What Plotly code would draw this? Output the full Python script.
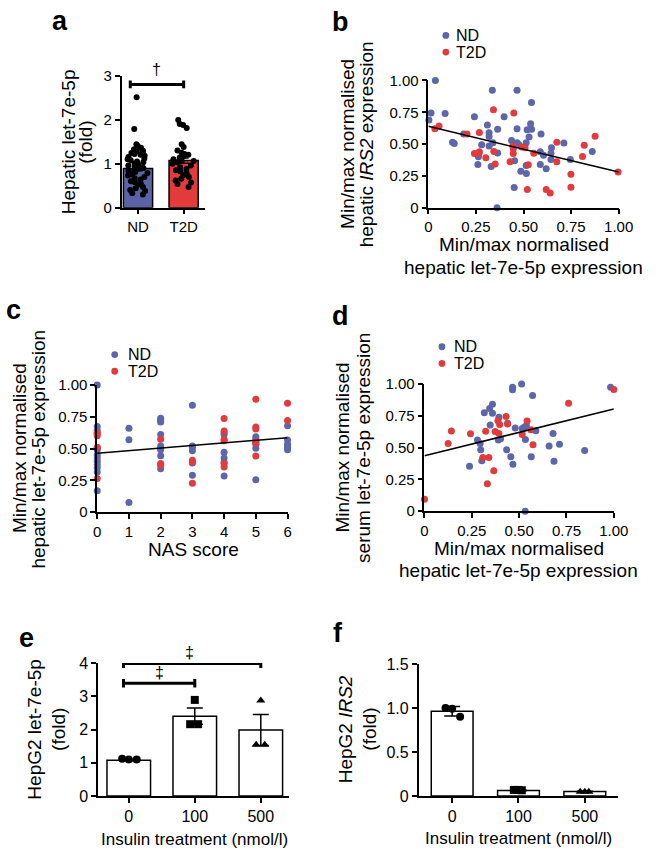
import plotly.graph_objects as go

W, H = 657, 856
ND_COLOR = "#5C66A9"
T2D_COLOR = "#E23B3E"
ND_BAR = "#5B63A6"
T2D_BAR = "#E33A3C"
FONT = "Liberation Sans, Arial, sans-serif"

# ---------------- data ----------------
# Panel a: hepatic let-7e-5p (fold)
a_groups = ["ND", "T2D"]
a_means = [0.89, 1.07]
a_sem = [0.05, 0.06]
a_nd = [2.51, 1.79, 1.44, 1.40, 1.36, 1.33, 1.30, 1.29, 1.27, 1.24, 1.22, 1.20,
        1.18, 1.15, 1.12, 1.10, 1.08, 1.05, 1.03, 1.00, 0.98, 0.96, 0.94, 0.92,
        0.90, 0.88, 0.86, 0.84, 0.81, 0.79, 0.76, 0.73, 0.70, 0.67, 0.64, 0.60,
        0.58, 0.55, 0.52, 0.47, 0.44, 0.40, 0.38, 0.33, 0.30]
a_t2d = [1.99, 1.90, 1.88, 1.81, 1.44, 1.38, 1.30, 1.25, 1.22, 1.20, 1.17, 1.14,
         1.10, 1.08, 1.06, 1.03, 1.00, 0.96, 0.92, 0.88, 0.85, 0.83, 0.78, 0.74,
         0.70, 0.66, 0.62, 0.57, 0.54, 0.47]

# Panel b: hepatic let-7e-5p (x) vs hepatic IRS2 (y)
b_nd_x = [0.037, 0.014, 0.003, 0.088, 0.127, 0.136, 0.186, 0.242, 0.263, 0.26, 0.28,
          0.31, 0.319, 0.319, 0.319, 0.33, 0.336, 0.339, 0.364, 0.364, 0.361, 0.398,
          0.437, 0.451, 0.453, 0.466, 0.466, 0.466, 0.475, 0.486, 0.514, 0.515, 0.514,
          0.519, 0.529, 0.537, 0.542, 0.542, 0.592, 0.588, 0.588, 0.605, 0.619, 0.644,
          0.644, 0.647, 0.712, 0.746, 0.861]
b_nd_y = [1.0, 0.745, 0.69, 0.74, 0.515, 0.505, 0.58, 0.714, 0.40, 0.34, 0.495,
          0.65, 0.59, 0.56, 0.485, 0.324, 0.923, 0.51, 0.617, 0.43, 0.0, 0.714,
          0.528, 0.158, 0.37, 0.923, 0.62, 0.51, 0.497, 0.286, 0.332, 0.268, 0.51,
          0.612, 0.556, 0.66, 0.827, 0.617, 0.579, 0.439, 0.339, 0.413, 0.306, 0.429,
          0.378, 0.472, 0.508, 0.378, 0.441]
b_t2d_x = [0.034, 0.056, 0.203, 0.268, 0.242, 0.266, 0.268, 0.302, 0.342, 0.344, 0.351,
           0.429, 0.446, 0.446, 0.449, 0.444, 0.49, 0.508, 0.525, 0.52, 0.554, 0.619,
           0.64, 0.675, 0.675, 0.749, 0.749, 0.81, 0.819, 0.876, 0.997]
b_t2d_y = [0.62, 0.643, 0.579, 0.592, 0.426, 0.429, 0.439, 0.393, 0.77, 0.441, 0.344,
           0.362, 0.426, 0.464, 0.745, 0.485, 0.477, 0.472, 0.337, 0.143, 0.429, 0.143,
           0.115, 0.515, 0.362, 0.263, 0.161, 0.403, 0.49, 0.561, 0.281]
b_fit_x = [0.0, 1.0]
b_fit_y = [0.64, 0.28]

# Panel c: NAS score (x) vs hepatic let-7e-5p (y)
c_nd_x = [0] * 13 + [1] * 3 + [2] * 9 + [3] * 6 + [4] * 6 + [5] * 5 + [6] * 5
c_nd_y = [1.0, 0.674, 0.644, 0.62, 0.503, 0.49, 0.451, 0.426, 0.40, 0.374, 0.349, 0.315, 0.169,
          0.66, 0.57, 0.077,
          0.738, 0.72, 0.708, 0.61, 0.52, 0.50, 0.49, 0.444, 0.341,
          0.841, 0.52, 0.51, 0.482, 0.387, 0.29,
          0.626, 0.61, 0.472, 0.426, 0.395, 0.285,
          0.592, 0.574, 0.533, 0.503, 0.254,
          0.679, 0.567, 0.533, 0.51, 0.49]
c_t2d_x = [0] * 4 + [2] * 3 + [3] * 3 + [4] * 6 + [5] * 6 + [6] * 2
c_t2d_y = [0.62, 0.60, 0.51, 0.265,
           0.574, 0.382, 0.369,
           0.408, 0.395, 0.228,
           0.736, 0.638, 0.572, 0.562, 0.382, 0.356,
           0.887, 0.669, 0.654, 0.554, 0.541, 0.441,
           0.856, 0.72]
c_fit_x = [0, 6]
c_fit_y = [0.464, 0.585]

# Panel d: hepatic let-7e-5p (x) vs serum let-7e-5p (y)
d_nd_x = [0.238, 0.28, 0.294, 0.297, 0.303, 0.316, 0.344, 0.347, 0.359, 0.359, 0.393,
          0.39, 0.402, 0.434, 0.439, 0.456, 0.465, 0.465, 0.467, 0.479, 0.513, 0.516,
          0.528, 0.533, 0.532, 0.538, 0.564, 0.571, 0.588, 0.658, 0.679, 0.684, 0.713,
          0.846, 0.983]
d_nd_y = [0.354, 0.559, 0.533, 0.482, 0.397, 0.774, 0.808, 0.677, 0.841, 0.769, 0.738,
          0.559, 0.569, 0.482, 0.692, 0.428, 0.974, 0.954, 0.369, 0.654, 1.0, 0.649,
          0.662, 0.564, 0.0, 0.672, 0.428, 0.91, 0.633, 0.513, 0.61, 0.392, 0.526,
          0.477, 0.974]
d_t2d_x = [0.0, 0.125, 0.142, 0.243, 0.308, 0.323, 0.34, 0.332, 0.366, 0.373, 0.388,
           0.397, 0.393, 0.431, 0.439, 0.516, 0.542, 0.562, 0.573, 0.761, 1.0]
d_t2d_y = [0.095, 0.533, 0.631, 0.608, 0.423, 0.628, 0.423, 0.215, 0.318, 0.626, 0.71,
           0.682, 0.61, 0.744, 0.685, 0.603, 0.708, 0.641, 0.523, 0.849, 0.956]
d_fit_x = [0.0, 1.0]
d_fit_y = [0.436, 0.803]

# Panels e, f: insulin treatment in HepG2
doses = ["0", "100", "500"]
e_means = [1.08, 2.40, 1.985]
e_sem = [0.02, 0.245, 0.465]
e_points = [[1.12, 1.10, 1.10], [2.89, 2.16, 2.16], [2.87, 1.54, 1.54]]
f_means = [0.963, 0.063, 0.052]
f_sem = [0.055, 0.006, 0.004]
f_points = [[1.0, 0.99, 0.90], [0.07, 0.07, 0.066], [0.05, 0.05, 0.048]]
dose_symbols = ["circle", "square", "triangle-up"]
point_offsets = [[-0.1, 0.0, 0.12], [0.0, -0.07, 0.05], [0.0, -0.07, 0.06]]

# significance brackets: (x_from, x_to, y) in data units, label and its pixel position
a_brackets = [(-0.17, 1.0, 2.8, "†", 157, 62)]
e_brackets = [(-0.08, 1.0, 3.39, "‡", 160, 678), (-0.08, 2.0, 3.98, "‡", 191, 657)]

# ---------------- figure ----------------
fig = go.Figure()

fig.add_trace(go.Bar(x=a_groups, y=a_means, width=0.64,
                     marker=dict(color=[ND_BAR, T2D_BAR], line=dict(color="black", width=1.5)),
                     error_y=dict(type="data", array=a_sem, color="black", thickness=1.5, width=5),
                     xaxis="x", yaxis="y", showlegend=False))
for grp, vals in zip(a_groups, [a_nd, a_t2d]):
    fig.add_trace(go.Box(x=[grp] * len(vals), y=vals, boxpoints="all", jitter=0.9, pointpos=0,
                         width=0.58, fillcolor="rgba(0,0,0,0)",
                         line=dict(color="rgba(0,0,0,0)", width=0),
                         marker=dict(color="black", size=6), xaxis="x", yaxis="y",
                         showlegend=False, name=grp))


def scatter_panel(xa, ya, ndx, ndy, tx, ty, fx, fy):
    fig.add_trace(go.Scatter(x=ndx, y=ndy, mode="markers", name="ND", cliponaxis=False,
                             marker=dict(color=ND_COLOR, size=7), xaxis=xa, yaxis=ya, showlegend=False))
    fig.add_trace(go.Scatter(x=tx, y=ty, mode="markers", name="T2D", cliponaxis=False,
                             marker=dict(color=T2D_COLOR, size=7), xaxis=xa, yaxis=ya, showlegend=False))
    fig.add_trace(go.Scatter(x=fx, y=fy, mode="lines", line=dict(color="black", width=1.5),
                             cliponaxis=False, xaxis=xa, yaxis=ya, showlegend=False))


scatter_panel("x2", "y2", b_nd_x, b_nd_y, b_t2d_x, b_t2d_y, b_fit_x, b_fit_y)
scatter_panel("x3", "y3", c_nd_x, c_nd_y, c_t2d_x, c_t2d_y, c_fit_x, c_fit_y)
scatter_panel("x4", "y4", d_nd_x, d_nd_y, d_t2d_x, d_t2d_y, d_fit_x, d_fit_y)


def dose_panel(xa, ya, means, sem, points, bw):
    fig.add_trace(go.Bar(x=list(range(len(doses))), y=means, width=bw,
                         marker=dict(color="white", line=dict(color="black", width=1.5)),
                         error_y=dict(type="data", array=sem, color="black", thickness=1.5, width=8),
                         xaxis=xa, yaxis=ya, showlegend=False))
    for i, vals in enumerate(points):
        fig.add_trace(go.Scatter(x=[i + o for o in point_offsets[i]], y=vals, mode="markers",
                                 cliponaxis=False,
                                 marker=dict(color="black", size=8, symbol=dose_symbols[i]),
                                 xaxis=xa, yaxis=ya, showlegend=False, name=doses[i]))


dose_panel("x5", "y5", e_means, e_sem, e_points, 0.66)
dose_panel("x6", "y6", f_means, f_sem, f_points, 0.63)


def xd(l, r):
    return [l / W, r / W]


def yd(top, bottom):
    return [1 - bottom / H, 1 - top / H]


base = dict(showline=True, linecolor="black", linewidth=1.5, ticks="outside", ticklen=5,
            tickwidth=1.5, tickcolor="black", showgrid=False, zeroline=False,
            tickfont=dict(size=15, color="black", family=FONT))
frac_vals = [0, 0.25, 0.5, 0.75, 1.0]
frac_text = ["0", "0.25", "0.50", "0.75", "1.00"]
big_tick = dict(size=16, color="black", family=FONT)

layout_axes = dict(
    xaxis=dict(base, domain=xd(121, 207), anchor="y", type="category",
               range=[-0.362, 1.468]),
    yaxis=dict(base, domain=yd(68, 203), anchor="x", range=[0, 3], tickvals=[0, 1, 2, 3]),
    xaxis2=dict(base, domain=xd(437, 633), anchor="y2", range=[0, 1], tickvals=frac_vals, ticktext=frac_text),
    yaxis2=dict(base, domain=yd(73, 203), anchor="x2", range=[0, 1], tickvals=frac_vals, ticktext=frac_text),
    xaxis3=dict(base, domain=xd(96, 292), anchor="y3", range=[0, 6], tickvals=list(range(7))),
    yaxis3=dict(base, domain=yd(384, 514), anchor="x3", range=[0, 1], tickvals=frac_vals, ticktext=frac_text),
    xaxis4=dict(base, domain=xd(433, 628), anchor="y4", range=[0, 1], tickvals=frac_vals, ticktext=frac_text),
    yaxis4=dict(base, domain=yd(383, 513), anchor="x4", range=[0, 1], tickvals=frac_vals, ticktext=frac_text),
    xaxis5=dict(base, domain=xd(97, 293), anchor="y5", range=[-0.463, 2.42], tickvals=[0, 1, 2],
                ticktext=doses, tickfont=big_tick),
    yaxis5=dict(base, domain=yd(668, 804), anchor="x5", range=[0, 4], tickvals=[0, 1, 2, 3, 4],
                tickfont=big_tick),
    xaxis6=dict(base, domain=xd(427, 632), anchor="y6", range=[-0.505, 2.496], tickvals=[0, 1, 2],
                ticktext=doses, tickfont=big_tick),
    yaxis6=dict(base, domain=yd(669, 804), anchor="x6", range=[0, 1.5], tickvals=[0, 0.5, 1.0, 1.5],
                ticktext=["0", "0.5", "1.0", "1.5"], tickfont=big_tick),
)

annotations = []
shapes = []


def text(px, py, s, size, angle=0, bold=False, xanchor="center"):
    annotations.append(dict(x=px / W, y=1 - py / H, xref="paper", yref="paper", text=s,
                            showarrow=False, textangle=angle, xanchor=xanchor, yanchor="middle",
                            font=dict(size=size, color="black", family=FONT,
                                      weight="bold" if bold else "normal")))


# panel letters
for s, px, py in [("a", 58, 12), ("b", 347, 13), ("c", 10, 307), ("d", 347, 314), ("e", 23, 643), ("f", 344, 637)]:
    text(px, py, s, 27, bold=True)

# axis titles
text(66, 136, "Hepatic let-7e-5p", 19, -90)
text(84, 136, "(fold)", 19, -90)
text(353, 138, "Min/max normalised", 19, -90)
text(373, 138, "hepatic <i>IRS2</i> expression", 19, -90)
text(535, 241, "Min/max normalised", 19)
text(535, 264, "hepatic let-7e-5p expression", 19)
text(16, 449, "Min/max normalised", 19, -90)
text(36, 449, "hepatic let-7e-5p expression", 19, -90)
text(195, 552, "NAS score", 19)
text(349, 448, "Min/max normalised", 19, -90)
text(370, 448, "serum let-7e-5p expression", 19, -90)
text(530, 551, "Min/max normalised", 19)
text(530, 574, "hepatic let-7e-5p expression", 19)
text(31, 736, "HepG2 let-7e-5p", 19, -90)
text(56, 736, "(fold)", 19, -90)
text(196, 848, "Insulin treatment (nmol/l)", 17)
text(352, 736, "HepG2 <i>IRS2</i>", 19, -90)
text(376, 736, "(fold)", 19, -90)
text(530, 847, "Insulin treatment (nmol/l)", 17)

# legends (marker + label)
for mx, my_nd, my_t, tx in [(455, 27, 44, 463), (114, 353, 370, 126), (451, 345, 362, 461)]:
    for my, col, lab in [(my_nd, ND_COLOR, "ND"), (my_t, T2D_COLOR, "T2D")]:
        r = 3.5
        shapes.append(dict(type="circle", xref="paper", yref="paper",
                           x0=(mx - r) / W, x1=(mx + r) / W, y0=1 - (my + r) / H, y1=1 - (my - r) / H,
                           fillcolor=col, line=dict(width=0)))
        text(tx, my, lab, 16, xanchor="left")


def bracket(xa, ya, x0, x1, y, cap):
    shapes.append(dict(type="line", xref=xa, yref=ya, x0=x0, x1=x1, y0=y, y1=y,
                       line=dict(color="black", width=3)))
    for xx in (x0, x1):
        shapes.append(dict(type="line", xref=xa, yref=ya, x0=xx, x1=xx, y0=y - cap, y1=y + cap,
                           line=dict(color="black", width=3)))


for x0, x1, y, lab, lx, ly in a_brackets:
    bracket("x", "y", x0, x1, y, 0.09)
    text(lx, ly, lab, 16)
for x0, x1, y, lab, lx, ly in e_brackets:
    bracket("x5", "y5", x0, x1, y, 0.13)
    text(lx, ly, lab, 16)

fig.update_layout(width=W, height=H, margin=dict(l=0, r=0, t=0, b=0),
                  paper_bgcolor="white", plot_bgcolor="white", showlegend=False,
                  font=dict(family=FONT, color="black"),
                  annotations=annotations, shapes=shapes, **layout_axes)

post = ("document.documentElement.style.margin='0';document.body.style.margin='0';"
        "document.body.style.padding='0';"
        "var d=document.getElementsByClassName('plotly-graph-div')[0];"
        "d.style.position='fixed';d.style.top='0px';d.style.left='0px';")
fig.write_html("out.html", config={"displayModeBar": False}, post_script=post)
